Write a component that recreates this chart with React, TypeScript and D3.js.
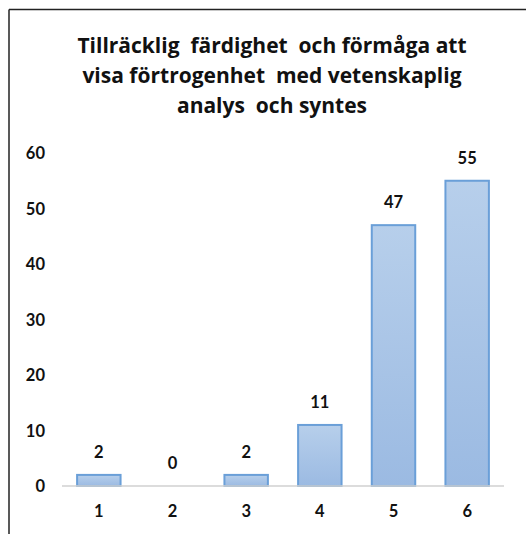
import React from 'react';
import * as d3 from 'd3';

const categories = ['1', '2', '3', '4', '5', '6'];
const counts = [2, 0, 2, 11, 47, 55];
const yTicks = [0, 10, 20, 30, 40, 50, 60];
const titleLines = [
  'Tillräcklig  färdighet  och förmåga att',
  'visa förtrogenhet  med vetenskaplig',
  'analys  och syntes',
];

const W = 526;
const H = 534;
const FONT = 'Lato, "Open Sans", sans-serif';
const TITLE_FONT = '"Open Sans", Lato, sans-serif';

function App(): React.ReactElement {
  const x = d3.scaleBand<string>()
    .domain(categories)
    .range([62, 504])
    .paddingInner(0.41)
    .paddingOuter(0.205);

  const y = d3.scaleLinear()
    .domain([0, 60])
    .range([486, 153]);

  return (
    <svg
      width={W}
      height={H}
      style={{ position: 'absolute', left: 0, top: 0, background: '#fff' }}
      fontFamily={FONT}
    >
      <defs>
        <linearGradient id="barFill" x1="0" y1="0" x2="0" y2="1">
          <stop offset="0%" stopColor="#b7cfeb" />
          <stop offset="100%" stopColor="#9bbae2" />
        </linearGradient>
      </defs>
      <rect x={0} y={0} width={W} height={H} fill="#fff" />
      {/* frame, cut off at right and bottom */}
      <line x1={9} y1={9.5} x2={W} y2={9.5} stroke="#222" strokeWidth={1.5} />
      <line x1={9} y1={9.5} x2={9} y2={H} stroke="#222" strokeWidth={1.5} />

      {titleLines.map((t, i) => (
        <text
          key={t}
          x={272}
          y={53 + i * 30}
          textAnchor="middle"
          fontFamily={TITLE_FONT}
          fontSize={21}
          fontWeight="bold"
          fill="#111"
          style={{ whiteSpace: 'pre' }}
        >
          {t}
        </text>
      ))}

      {yTicks.map((t) => (
        <text
          key={t}
          x={45}
          y={y(t) + 6}
          textAnchor="end"
          fontSize={16.5}
          fontWeight="bold"
          fill="#111"
        >
          {t}
        </text>
      ))}

      {categories.map((c, i) => {
        const bx = x(c) ?? 0;
        const h = y(0) - y(counts[i]);
        return (
          <g key={c}>
            {counts[i] > 0 && (
              <rect
                x={bx}
                y={y(counts[i])}
                width={x.bandwidth()}
                height={h}
                fill="url(#barFill)"
                stroke="#6a9fd8"
                strokeWidth={2}
              />
            )}
            <text
              x={bx + x.bandwidth() / 2}
              y={y(counts[i]) - 17}
              textAnchor="middle"
              fontSize={16.5}
              fontWeight="bold"
              fill="#111"
            >
              {counts[i]}
            </text>
            <text
              x={bx + x.bandwidth() / 2}
              y={517}
              textAnchor="middle"
              fontSize={16.5}
              fontWeight="bold"
              fill="#111"
            >
              {c}
            </text>
          </g>
        );
      })}

      <line x1={62} y1={y(0)} x2={504} y2={y(0)} stroke="#d0d0d0" strokeWidth={1.5} />
    </svg>
  );
}

export default App;
